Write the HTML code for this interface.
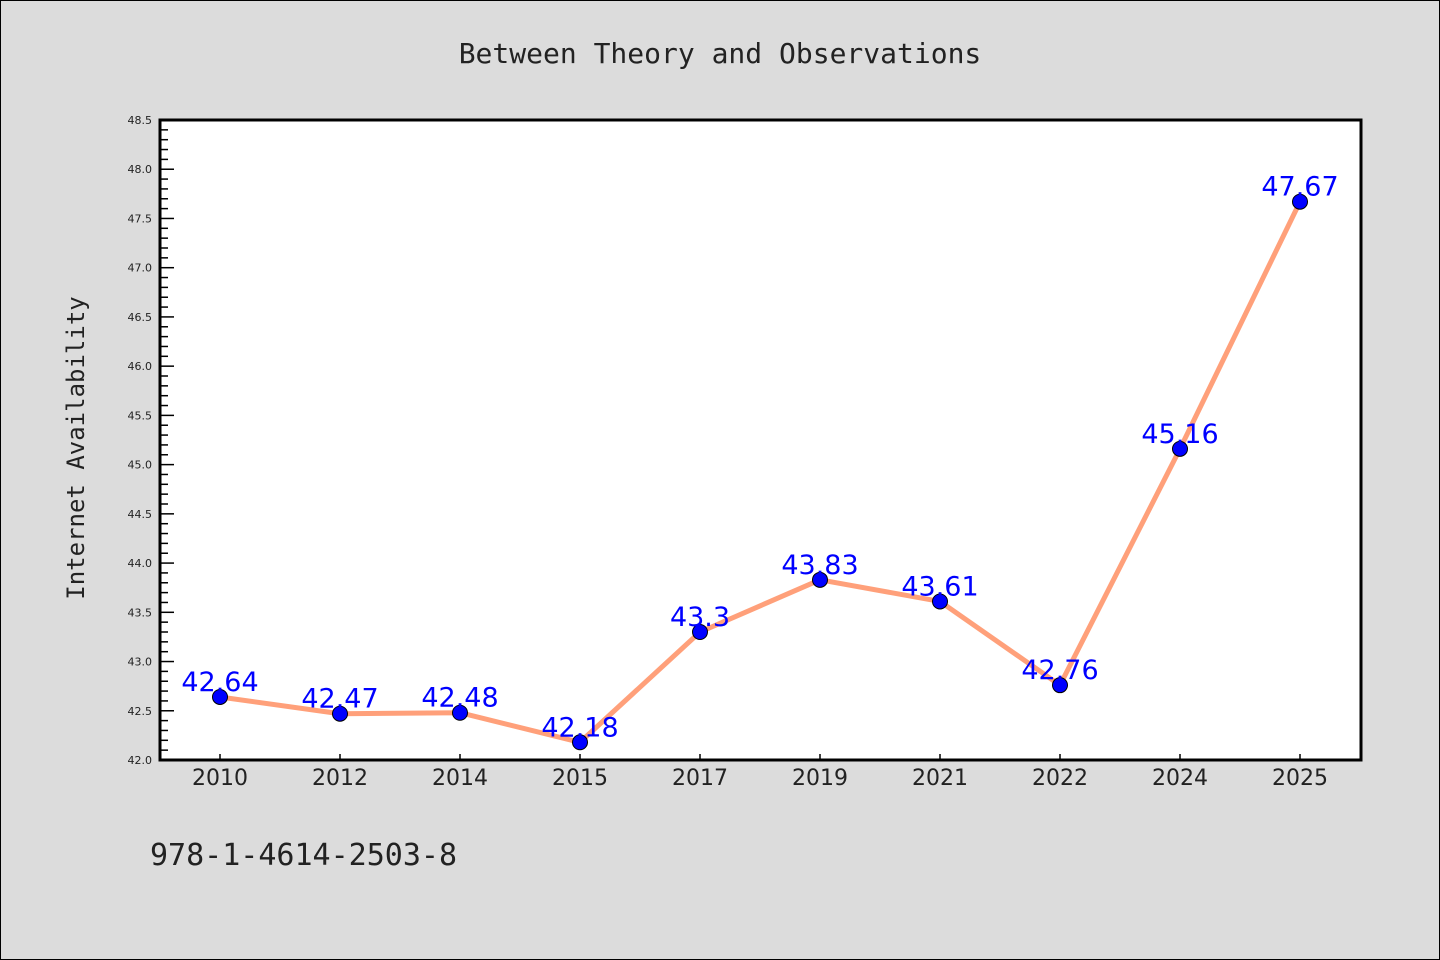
<!DOCTYPE html>
<html><head><meta charset="utf-8"><style>
body{margin:0;background:#dcdcdc;}
svg{display:block;font-family:"DejaVu Sans","Liberation Sans",sans-serif;}
</style></head><body>
<svg id="chart" width="1440" height="960" viewBox="0 0 1440 960">
<rect x="0.5" y="0.5" width="1439" height="959" fill="#dcdcdc" stroke="#000"/>
<text x="720" y="63" text-anchor="middle" font-family="DejaVu Sans Mono,Liberation Mono,monospace" font-size="28" fill="#222">Between Theory and Observations</text>
<rect x="160" y="120" width="1201" height="640" fill="#fff"/>
<g id="yticks"></g><g id="xticks"></g>
<rect x="160" y="120" width="1201" height="640" fill="none" stroke="#000" stroke-width="3"/>
<g id="series"></g>
<text transform="translate(84,448) rotate(-90)" text-anchor="middle" font-family="DejaVu Sans Mono,Liberation Mono,monospace" font-size="24" fill="#222">Internet Availability</text>
<text x="150" y="865" font-family="DejaVu Sans Mono,Liberation Mono,monospace" font-size="30" fill="#222">978-1-4614-2503-8</text>
</svg>
<script>
const categories=["2010","2012","2014","2015","2017","2019","2021","2022","2024","2025"];
const values=[42.64,42.47,42.48,42.18,43.3,43.83,43.61,42.76,45.16,47.67];
const valueLabels=["42.64","42.47","42.48","42.18","43.3","43.83","43.61","42.76","45.16","47.67"];
const yMin=42.0,yMax=48.5;
const NS="http://www.w3.org/2000/svg";
const L=160,R=1361,T=120,B=760;
const xs=i=>220+i*(R-L-121)/(categories.length-1);
const ys=v=>B-(v-yMin)/(yMax-yMin)*(B-T);
function mk(t,a,p){const e=document.createElementNS(NS,t);for(const k in a)e.setAttribute(k,a[k]);p.appendChild(e);return e;}
const yt=document.getElementById('yticks');
for(let k=0;k<=65;k++){const v=yMin+k*0.1;const y=ys(v);const major=k%5===0;
 const ln=mk('line',{x1:L,x2:L+(major?14:8),y1:y,y2:y,stroke:'#000','stroke-width':1.5},yt);
 
 
 if(major){const t=mk('text',{x:152,y:y+4,'text-anchor':'end','font-size':11,fill:'#222'},yt);t.textContent=v.toFixed(1);
 
 }}
const xt=document.getElementById('xticks');
categories.forEach((c,i)=>{const x=xs(i);
 const ln=mk('line',{x1:x,x2:x,y1:B-6,y2:B,stroke:'#000','stroke-width':1.5},xt);
 
 
 const t=mk('text',{x:x,y:785,'text-anchor':'middle','font-size':22,fill:'#222'},xt);t.textContent=c;
 
 });
const s=document.getElementById('series');
const pl=mk('polyline',{points:values.map((v,i)=>xs(i)+','+ys(v)).join(' '),fill:'none',stroke:'#ffa07a','stroke-width':5,'stroke-linejoin':'round'},s);


values.forEach((v,i)=>{
 const c=mk('circle',{cx:xs(i),cy:ys(v),r:7.5,fill:'#0000ff',stroke:'#000','stroke-width':1},s);
 
 
 const t=mk('text',{x:xs(i),y:ys(v)-6,'text-anchor':'middle','font-size':27,fill:'#0000ff'},s);t.textContent=valueLabels[i];
 
 
});
</script>
</body></html>
